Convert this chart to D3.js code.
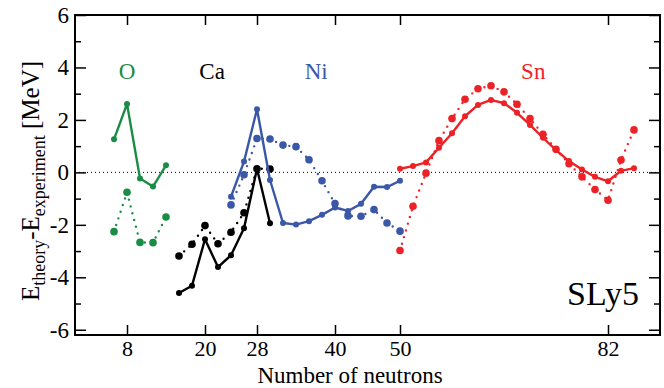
<!DOCTYPE html>
<html><head><meta charset="utf-8">
<script src="https://cdn.jsdelivr.net/npm/d3@7"></script>
<style>body{margin:0;background:#fff}svg{display:block}
svg text{font-family:"Liberation Serif","Times New Roman","DejaVu Serif",serif !important;}</style>
</head><body>
<script>
// ---- data ----
const nO  = [6, 8, 10, 12, 14];
const oSolid  = [1.26, 2.61, -0.23, -0.54, 0.27];
const oDotted = [-2.26, -0.76, -2.67, -2.68, -1.70];

const nCa = [16, 18, 20, 22, 24, 26, 28, 30];
const caSolid  = [-4.60, -4.32, -2.55, -3.61, -3.16, -2.13, 0.14, -1.94];
const caDotted = [-3.19, -2.74, -2.03, -2.72, -2.28, -1.54, 0.14, 0.13];

const nNi = [24, 26, 28, 30, 32, 34, 36, 38, 40, 42, 44, 46, 48, 50];
const niSolid  = [-0.93, 0.41, 2.41, -0.29, -1.93, -1.99, -1.86, -1.62, -1.34, -1.47, -1.20, -0.55, -0.56, -0.32];
const niDotted = [-1.24, -0.09, 1.29, 1.27, 1.04, 0.98, 0.48, -0.32, -1.19, -1.66, -1.67, -1.42, -1.93, -2.24];

const nSn = [50, 52, 54, 56, 58, 60, 62, 64, 66, 68, 70, 72, 74, 76, 78, 80, 82, 84, 86];
const snSolid  = [0.14, 0.24, 0.38, 0.94, 1.49, 2.14, 2.57, 2.76, 2.64, 2.27, 1.81, 1.32, 0.85, 0.43, 0.11, -0.17, -0.34, 0.06, 0.16];
const snDotted = [-2.98, -1.29, -0.03, 1.21, 2.05, 2.79, 3.19, 3.30, 3.07, 2.60, 2.05, 1.45, 0.88, 0.33, -0.17, -0.65, -1.06, 0.47, 1.62];

const xTicks = [8, 20, 28, 40, 50, 82];
const yMajor = [-6, -4, -2, 0, 2, 4, 6];
const yMinor = [-5, -3, -1, 1, 3, 5];

const series = [
  {name: "O",  n: nO,  solid: oSolid,  dotted: oDotted,  color: "#1a8c45", lx: 8},
  {name: "Ca", n: nCa, solid: caSolid, dotted: caDotted, color: "#000000", lx: 21.1},
  {name: "Ni", n: nNi, solid: niSolid, dotted: niDotted, color: "#3b57a8", lx: 37.1},
  {name: "Sn", n: nSn, solid: snSolid, dotted: snDotted, color: "#ec2227", lx: 70.5}
];

// ---- chart ----
const W = 664, H = 388;
const mL = 75, mR = 660, mT = 15, mB = 335;
const svg = d3.select("body").append("svg").attr("width", W).attr("height", H);

const x = d3.scaleLinear().domain([0, 90]).range([mL, mR]);
const y = d3.scaleLinear().domain([-6.2, 6]).range([mB, mT]);

// zero line
svg.append("line").attr("x1", mL).attr("x2", mR).attr("y1", y(0)).attr("y2", y(0))
  .attr("stroke", "#000").attr("stroke-width", 1).attr("stroke-dasharray", "1,3");

// axes
const axB = svg.append("g").attr("transform", `translate(0,${mB})`)
  .call(d3.axisBottom(x).tickValues(xTicks).tickSize(-10).tickPadding(5).tickFormat(d3.format("d")));
const axT = svg.append("g").attr("transform", `translate(0,${mT})`)
  .call(d3.axisTop(x).tickValues(xTicks).tickSize(-10).tickFormat(""));
const axL = svg.append("g").attr("transform", `translate(${mL},0)`)
  .call(d3.axisLeft(y).tickValues(yMajor).tickSize(-11).tickPadding(6).tickFormat(d => d < 0 ? "-" + Math.abs(d) : d));
const axLm = svg.append("g").attr("transform", `translate(${mL},0)`)
  .call(d3.axisLeft(y).tickValues(yMinor).tickSize(-6).tickFormat(""));
const axR = svg.append("g").attr("transform", `translate(${mR},0)`)
  .call(d3.axisRight(y).tickValues(yMajor).tickSize(-11).tickFormat(""));
const axRm = svg.append("g").attr("transform", `translate(${mR},0)`)
  .call(d3.axisRight(y).tickValues(yMinor).tickSize(-6).tickFormat(""));
[axB, axT, axL, axLm, axR, axRm].forEach(g => {
  g.select(".domain").remove();
  g.selectAll(".tick line").attr("stroke", "#000").attr("stroke-width", 1.5);
  g.selectAll("text").attr("font-size", 23).attr("fill", "#000");
});
axB.selectAll("text").attr("font-size", 22);
svg.append("rect").attr("x", mL).attr("y", mT).attr("width", mR - mL).attr("height", mB - mT)
  .attr("fill", "none").attr("stroke", "#000").attr("stroke-width", 2);

// series
const line = d3.line().x(d => x(d[0])).y(d => y(d[1]));
series.forEach(s => {
  const ps = s.n.map((n, i) => [n, s.solid[i]]);
  const pd = s.n.map((n, i) => [n, s.dotted[i]]);
  svg.append("path").attr("d", line(pd)).attr("fill", "none").attr("stroke", s.color)
    .attr("stroke-width", 2.4).attr("stroke-linecap", "round").attr("stroke-dasharray", "0,7");
  svg.append("g").selectAll("circle").data(pd).join("circle")
    .attr("cx", d => x(d[0])).attr("cy", d => y(d[1])).attr("r", 3.8).attr("fill", s.color);
  svg.append("path").attr("d", line(ps)).attr("fill", "none").attr("stroke", s.color)
    .attr("stroke-width", 2.4).attr("stroke-linejoin", "round");
  svg.append("g").selectAll("circle").data(ps).join("circle")
    .attr("cx", d => x(d[0])).attr("cy", d => y(d[1])).attr("r", 3).attr("fill", s.color);
  svg.append("text").attr("x", x(s.lx)).attr("y", 79).attr("text-anchor", "middle")
    .attr("font-size", 23).attr("fill", s.color).text(s.name);
});

svg.append("text").attr("x", 603).attr("y", 305).attr("text-anchor", "middle")
  .attr("font-size", 34).attr("fill", "#000").text("SLy5");

// axis titles
svg.append("text").attr("x", 350).attr("y", 383).attr("text-anchor", "middle")
  .attr("font-size", 23).attr("fill", "#000").text("Number of neutrons");

const yl = svg.append("text").attr("transform", `translate(39,181) rotate(-90)`)
  .attr("text-anchor", "middle").attr("font-size", 25).attr("fill", "#000");
yl.append("tspan").text("E");
yl.append("tspan").attr("font-size", 18).attr("dy", 6).text("theory");
yl.append("tspan").attr("dy", -6).text("-E");
yl.append("tspan").attr("font-size", 18).attr("dy", 6).text("experiment");
yl.append("tspan").attr("dy", -6).text(" [MeV]");
</script>
</body></html>
